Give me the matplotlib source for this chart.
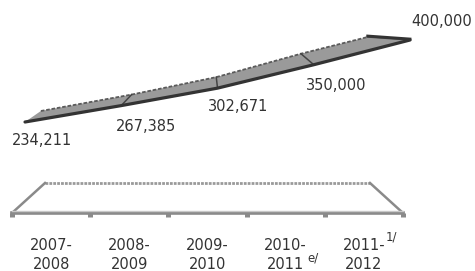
import numpy as np
import matplotlib
matplotlib.use("Agg")
import matplotlib.pyplot as plt
from matplotlib.patches import Polygon
from matplotlib.transforms import IdentityTransform

# data
years = ["2007-\n2008", "2008-\n2009", "2009-\n2010", "2010-\n2011", "2011-\n2012"]
values = [234211, 267385, 302671, 350000, 400000]
value_labels = ["234,211", "267,385", "302,671", "350,000", "400,000"]
notes = ["", "", "", "e/", "1/"]

W, H = 475, 271
fig = plt.figure(figsize=(W / 100, H / 100), dpi=100)
fig.patch.set_facecolor("white")

# axes for the 3d-ish ribbon line
ax = fig.add_axes([0, 0, 1, 1])
ax.set_xlim(-0.26, 4.675)
ax.set_ylim(-67043, 480876)
ax.axis("off")

x = np.arange(len(values))
front = ax.transData.transform(np.column_stack([x, values]))
# fake depth: back edge shifted up and toward a vanishing point
vx = 207
back = front.copy()
back[:, 0] += 0.12 * (vx - front[:, 0])
back[:, 1] += 11
back[0, 0] -= 6
back[-1, 0] -= 18
back[-1, 1] -= 8

ribbon = np.vstack([front, back[::-1]])
ax.add_patch(Polygon(ribbon, closed=True, transform=IdentityTransform(),
                     facecolor="#9a9a9a", edgecolor="none", zorder=2))
ax.plot(back[:, 0], back[:, 1], color="#5a5a5a", lw=1.3, ls=(0, (2, 1)),
        transform=IdentityTransform(), zorder=3)
ax.plot(front[:, 0], front[:, 1], color="#333333", lw=2.3,
        transform=IdentityTransform(), zorder=4, solid_capstyle="round")
for i in range(1, len(values)):
    ax.plot([front[i, 0], back[i, 0]], [front[i, 1], back[i, 1]],
            color="#444444", lw=1.1, transform=IdentityTransform(), zorder=3)
ax.plot([back[-1, 0], front[-1, 0]], [back[-1, 1] + 1, front[-1, 1] + 1],
        color="#333333", lw=2, transform=IdentityTransform(), zorder=4)

# value labels
label_offsets = [(12, -13), (18, -15), (14.5, -13), (16, -15), (23, 13)]
for i, (v, t) in enumerate(zip(values, value_labels)):
    ax.annotate(t, (i, v), xytext=label_offsets[i], textcoords="offset points",
                ha="center", va="center", fontsize=10.5, color="#333333")

# floor axes
ax2 = fig.add_axes([12 / W, 1 - 213 / H, (403 - 12) / W, 30 / H])
ax2.set_xlim(0, len(years))
ax2.set_ylim(0, 1)
inset = (45 - 12) / 78.2
floor = [(0, 0), (len(years), 0), (len(years) - inset, 1), (inset, 1)]
ax2.add_patch(Polygon(floor, closed=True, facecolor="white", edgecolor="none"))
ax2.plot([inset, len(years) - inset], [1, 1], color="#9a9a9a", lw=2,
         ls=(0, (1, 0.4)), clip_on=False)
ax2.plot([0, inset], [0, 1], color="#8a8a8a", lw=1.8, clip_on=False)
ax2.plot([len(years), len(years) - inset], [0, 1], color="#8a8a8a", lw=1.8, clip_on=False)
ax2.plot([0, len(years)], [0, 0], color="#8a8a8a", lw=2.6, clip_on=False)
ax2.plot([0, len(years)], [0.08, 0.08], color="#c8c8c8", lw=1, clip_on=False)
for s in ax2.spines.values():
    s.set_visible(False)
ax2.set_facecolor("none")
ax2.set_yticks([])
ax2.set_xticks(np.arange(len(years) + 1))
ax2.set_xticklabels([])
ax2.tick_params(axis="x", which="major", length=3, width=3.6, color="#8a8a8a")
ax2.set_xticks(np.arange(len(years)) + 0.5, minor=True)
ax2.set_xticklabels(years, minor=True, fontsize=10.5, color="#333333",
                    linespacing=1.3)
ax2.tick_params(axis="x", which="minor", length=0, pad=18)

# footnote marks
note_pos = {3: (313, 258), 4: (391, 237)}
for i, n in enumerate(notes):
    if n:
        px, py = note_pos[i]
        fig.text(px / W, 1 - py / H, n, fontsize=8.5, color="#333333",
                 ha="center", va="center")

fig.savefig("out.png", dpi=100, facecolor="white")
